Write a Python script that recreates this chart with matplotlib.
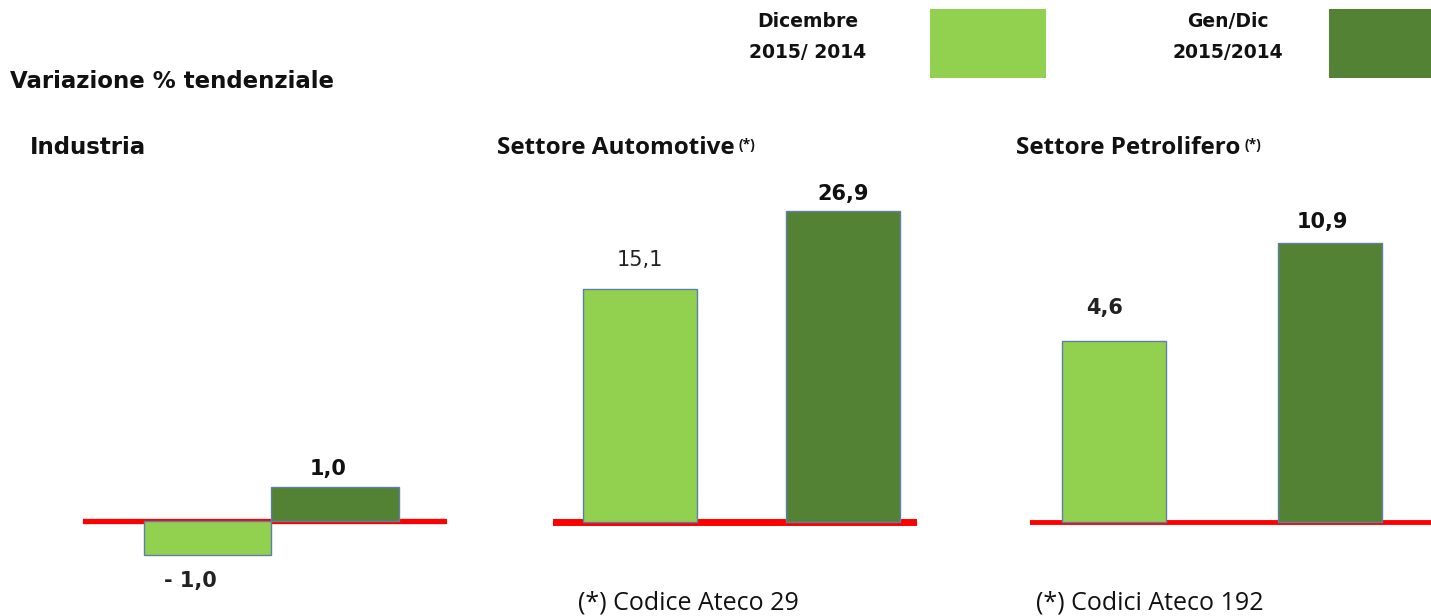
import matplotlib
matplotlib.use('Agg')
import numpy as np
import matplotlib.pyplot as plt
from matplotlib.patches import Rectangle

# dati (variazione % tendenziale)
panels = ['Industria', 'Settore Automotive', 'Settore Petrolifero']
dicembre = [-1.0, 15.1, 4.6]      # Dicembre 2015/2014
gen_dic = [1.0, 26.9, 10.9]       # Gen/Dic 2015/2014
labels_dic = ['- 1,0', '15,1', '4,6']
labels_gen = ['1,0', '26,9', '10,9']
footnotes = ['', '(*) Codice Ateco 29', '(*) Codici Ateco 192']

light = '#92D050'
dark = '#548235'
edge = '#5f7fa8'

W, H = 1431, 616
fig = plt.figure(figsize=(W / 100, H / 100), dpi=100)

def fx(p):
    return p / W

def fy(p):
    return 1 - p / H

def fwd(v):
    v = np.asarray(v, dtype=float)
    return np.sign(v) * np.sqrt(np.abs(v))

def inv(t):
    t = np.asarray(t, dtype=float)
    return np.sign(t) * t ** 2

# layout per pannello
layout = [
    dict(x0=83, x1=447, base=521, c=34, xlim=(-0.976, 1.878), width=1.0, lw=3.8),
    dict(x0=553, x1=917, base=522, c=60, xlim=(-0.43, 1.365), width=0.56, lw=5.0),
    dict(x0=1030, x1=1431, base=522, c=84.5, xlim=(-0.39, 1.468), width=0.48, lw=3.5),
]
label_off = [((-17, -26), (-7, 18)), ((0, 29), (0, 17)), ((-10, 33), (-8, 21))]
top_px, bot_px = 180, 600

axes = []
for i, L in enumerate(layout):
    ax = fig.add_axes([fx(L['x0']), fy(bot_px), fx(L['x1'] - L['x0']), (bot_px - top_px) / H])
    ax.set_yscale('function', functions=(fwd, inv))
    ax.set_xlim(*L['xlim'])
    t_top = (L['base'] - top_px) / L['c']
    t_bot = -(bot_px - L['base']) / L['c']
    ax.set_ylim(float(inv(t_bot)), float(inv(t_top)))
    ax.axis('off')
    ax.axhline(0, color='#ff0000', linewidth=L['lw'], zorder=1)
    ax.bar([0, 1], [dicembre[i], gen_dic[i]], width=L['width'], color=[light, dark],
           edgecolor=edge, linewidth=1.0, zorder=2)
    (ox1, oy1), (ox2, oy2) = label_off[i]
    w1 = 'normal' if i == 1 else 'bold'
    ax.annotate(labels_dic[i], (0, dicembre[i]), xytext=(ox1, oy1), textcoords='offset pixels',
                ha='center', va='center', fontsize=15, fontweight=w1, color='#222222',
                annotation_clip=False)
    ax.annotate(labels_gen[i], (1, gen_dic[i]), xytext=(ox2, oy2), textcoords='offset pixels',
                ha='center', va='center', fontsize=15, fontweight='bold', color='#111111',
                annotation_clip=False)
    axes.append(ax)

# titoli
fig.text(fx(10), fy(82), 'Variazione % tendenziale', fontsize=16.5, fontweight='bold',
         ha='left', va='center', color='#111111')
fig.text(fx(30), fy(148), 'Industria', fontsize=16.5, fontweight='bold',
         ha='left', va='center', color='#111111')
for x0, title in [(497, 'Settore Automotive'), (1016, 'Settore Petrolifero')]:
    t = fig.text(fx(x0), fy(148), title, fontsize=17.5, fontweight='bold',
                 family='Open Sans', ha='left', va='center', color='#111111')
    axes[0].annotate('(*)', xy=(1, 1), xycoords=t, xytext=(4, -2), textcoords='offset pixels',
                     fontsize=10, fontweight='bold', family='Open Sans',
                     ha='left', va='top', color='#111111', annotation_clip=False)

# note
fig.text(fx(578), fy(603), footnotes[1], fontsize=18, family='Open Sans', ha='left',
         va='center', color='#111111')
fig.text(fx(1036), fy(603), footnotes[2], fontsize=18, family='Open Sans', ha='left',
         va='center', color='#111111')

# legenda
fig.text(fx(808), fy(37), 'Dicembre\n2015/ 2014', fontsize=13.5, fontweight='bold',
         ha='center', va='center', linespacing=1.8, color='#111111')
fig.text(fx(1228), fy(37), 'Gen/Dic\n2015/2014', fontsize=13.5, fontweight='bold',
         ha='center', va='center', linespacing=1.8, color='#111111')
fig.patches.append(Rectangle((fx(930), fy(78)), fx(116), 69 / H, transform=fig.transFigure,
                             facecolor=light, edgecolor='none'))
fig.patches.append(Rectangle((fx(1329), fy(78)), fx(102), 69 / H, transform=fig.transFigure,
                             facecolor=dark, edgecolor='none'))

fig.savefig('out.png', dpi=100)
